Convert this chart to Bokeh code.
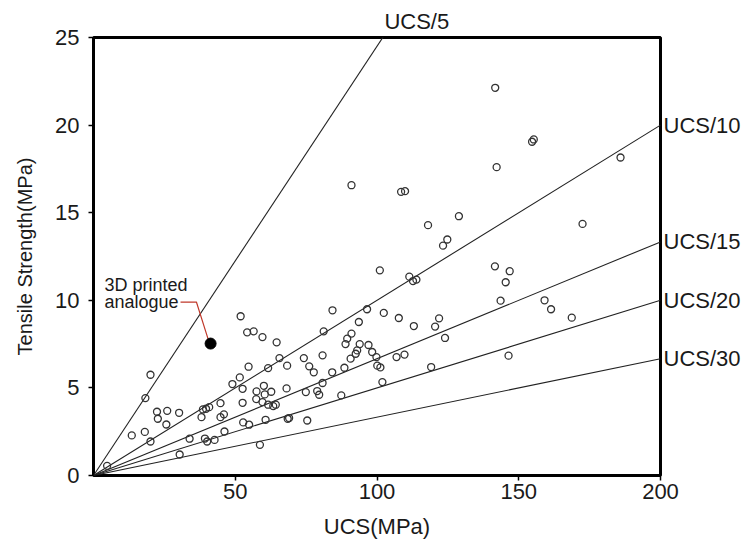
import math
from bokeh.plotting import figure
from bokeh.models import (Range1d, FixedTicker, Label, ColumnDataSource, LinearAxis,
                          CustomJSTickFormatter)
from bokeh.embed import file_html
from bokeh.resources import INLINE

# ---- data ----
ucs_mpa = [
    51.9, 54.2, 56.5, 59.6, 64.6, 20.1, 18.3, 65.6, 68.3, 54.7,
    51.6, 49.0, 52.6, 60.1, 57.5, 60.4, 62.7, 57.4, 59.6, 61.6,
    63.4, 64.3, 68.1, 52.6, 44.8, 61.6, 38.6, 39.7, 40.8, 44.8,
    46.0, 38.1, 30.2, 26.0, 22.4, 22.7, 25.7, 18.1, 13.5, 20.1,
    33.9, 39.3, 40.1, 42.7, 46.2, 52.8, 54.9, 60.7, 68.5, 58.7,
    30.4, 4.8,
    101.0, 84.3, 96.5, 102.4, 107.7, 81.2, 93.6, 91.0, 89.5, 88.9,
    93.9, 97.0, 93.0, 92.5, 90.7, 98.3, 99.8, 100.1, 101.2, 106.9,
    80.8, 74.2, 76.1, 77.7, 84.2, 88.5, 80.8, 74.9, 78.9, 79.6,
    87.4, 101.9, 69.0, 75.4,
    141.7, 154.7, 155.3, 185.9, 142.2, 91.0, 108.5, 109.9, 128.9, 118.0,
    124.8, 123.3,
    172.5, 111.4, 112.7, 113.9, 141.6, 146.8, 145.4, 143.6, 159.1, 161.4,
    168.7, 113.0, 121.9, 120.5, 124.0, 109.7, 119.1, 146.4,
]
tensile_mpa = [
    9.09, 8.17, 8.23, 7.90, 7.60, 5.75, 4.42, 6.70, 6.27, 6.21,
    5.60, 5.22, 4.95, 5.12, 4.80, 4.63, 4.78, 4.36, 4.19, 4.04,
    3.96, 4.04, 4.97, 4.15, 4.13, 6.13, 3.77, 3.81, 3.90, 3.33,
    3.49, 3.33, 3.58, 3.69, 3.64, 3.24, 2.91, 2.49, 2.29, 1.94,
    2.10, 2.11, 1.94, 2.03, 2.51, 3.03, 2.90, 3.18, 3.24, 1.75,
    1.20, 0.55,
    11.71, 9.43, 9.49, 9.28, 8.99, 8.23, 8.76, 8.10, 7.81, 7.50,
    7.50, 7.45, 7.14, 6.95, 6.67, 7.05, 6.76, 6.27, 6.17, 6.76,
    6.86, 6.70, 6.23, 5.89, 5.89, 6.15, 5.28, 4.76, 4.82, 4.61,
    4.57, 5.33, 3.28, 3.14,
    22.13, 19.05, 19.18, 18.15, 17.60, 16.57, 16.19, 16.23, 14.80, 14.29,
    13.47, 13.12,
    14.36, 11.35, 11.10, 11.18, 11.94, 11.66, 11.03, 9.98, 10.00, 9.49,
    9.01, 8.53, 8.97, 8.50, 7.85, 6.90, 6.19, 6.84,
]

analogue_ucs = [41.3]
analogue_ts = [7.53]

ratio_labels = ["UCS/5", "UCS/10", "UCS/15", "UCS/20", "UCS/30"]
ratio_slopes = [0.245, 1 / 10, 1 / 15, 1 / 20, 1 / 30]  # slopes as drawn

x_ticks = [50, 100, 150, 200]
y_ticks = [0, 5, 10, 15, 20, 25]

leader_x = [30.7, 36.3, 40.6]
leader_y = [9.9, 9.9, 7.7]

FONT = "Liberation Sans"
TXT = "#1a1a1a"
XMAX, YMAX = 200, 25

p = figure(width=744, height=546, output_backend="svg", toolbar_location=None,
           x_range=Range1d(0, XMAX), y_range=Range1d(0, YMAX),
           min_border_left=93, min_border_right=84, min_border_top=37,
           min_border_bottom=71)
p.background_fill_color = "white"
p.border_fill_color = "white"
p.grid.visible = False
p.outline_line_color = "black"
p.outline_line_width = 3

for ax in (p.xaxis[0], p.yaxis[0]):
    ax.axis_line_color = None
    ax.major_tick_line_color = "black"
    ax.major_tick_line_width = 1.5
    ax.major_tick_out = 5
    ax.major_tick_in = 0
    ax.minor_tick_line_color = None
    ax.major_label_text_font = FONT
    ax.major_label_text_font_size = "22px"
    ax.major_label_text_color = TXT
    ax.axis_label_text_font = FONT
    ax.axis_label_text_font_style = "normal"
    ax.axis_label_text_color = TXT
p.xaxis.ticker = FixedTicker(ticks=x_ticks)
p.yaxis.ticker = FixedTicker(ticks=y_ticks)
p.xaxis.major_label_standoff = 3
p.yaxis.major_label_standoff = 9
p.xaxis.axis_label = "UCS(MPa)"
p.xaxis.axis_label_text_font_size = "22px"
p.xaxis.axis_label_standoff = 12
p.yaxis.axis_label = "Tensile Strength(MPa)"
p.yaxis.axis_label_text_font_size = "20px"
p.yaxis.axis_label_standoff = 16

# ratio lines
for s in ratio_slopes:
    p.line([0, XMAX], [0, s * XMAX], line_color="#222222", line_width=1.1)

# data points
src = ColumnDataSource(dict(x=ucs_mpa, y=tensile_mpa))
p.scatter("x", "y", source=src, marker="circle", size=7, fill_color=None,
          line_color="#333333", line_width=1.3)

# leader and analogue point
p.line(leader_x, leader_y, line_color="#c0392b", line_width=1.2)
p.scatter(analogue_ucs, analogue_ts, marker="circle", size=11,
          fill_color="black", line_color="black")

# line labels: via extra axes (right for lines ending at x=200, top for steeper ones)
right_pairs = sorted([(s * XMAX, lab) for lab, s in zip(ratio_labels, ratio_slopes)
                      if s * XMAX <= YMAX])
top_pairs = sorted([(YMAX / s + 12.0, lab) for lab, s in zip(ratio_labels, ratio_slopes)
                    if s * XMAX > YMAX])


def label_axis(pairs, side):
    ticks = [t for t, _ in pairs]
    labs = [l for _, l in pairs]
    fmt = CustomJSTickFormatter(args=dict(labs=labs), code="return labs[index];")
    ax = LinearAxis(ticker=FixedTicker(ticks=ticks), formatter=fmt)
    ax.axis_line_color = None
    ax.major_tick_line_color = None
    ax.minor_tick_line_color = None
    ax.major_tick_out = 0
    ax.major_tick_in = 0
    ax.major_label_standoff = 3 if side == "right" else 4
    ax.major_label_text_font = FONT
    ax.major_label_text_font_size = "22px"
    ax.major_label_text_color = TXT
    p.add_layout(ax, side)


label_axis(right_pairs, "right")
label_axis(top_pairs, "above")

# annotation text
p.add_layout(Label(x=3.9, y=10.86, text="3D printed", text_align="left",
                   text_baseline="alphabetic", text_font=FONT,
                   text_font_size="18px", text_color=TXT))
p.add_layout(Label(x=3.9, y=9.89, text="analogue", text_align="left",
                   text_baseline="alphabetic", text_font=FONT,
                   text_font_size="18px", text_color=TXT))

open("out.html", "w").write(file_html(p, INLINE))
